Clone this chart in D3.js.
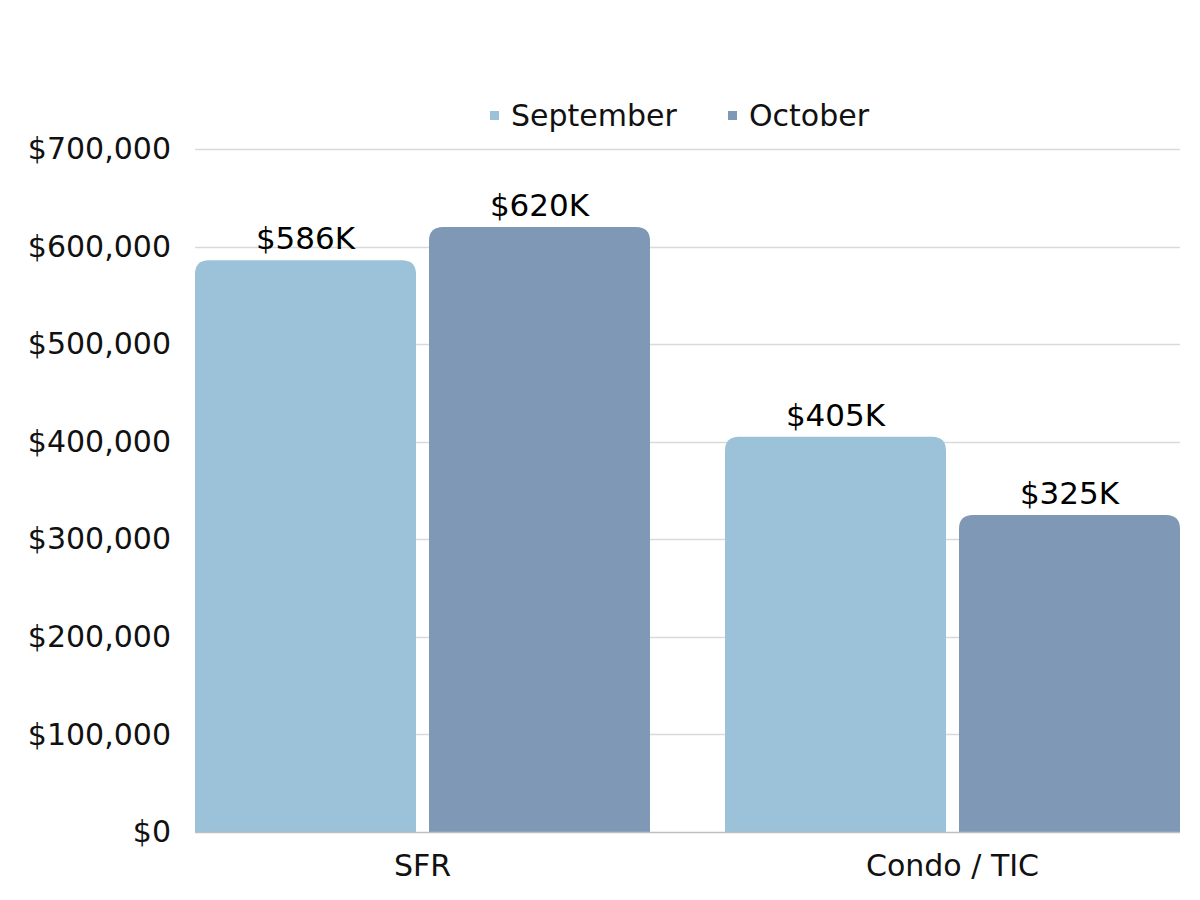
<!DOCTYPE html>
<html>
<head>
<meta charset="utf-8">
<script src="https://cdn.jsdelivr.net/npm/d3@7"></script>
<style>
  html, body { margin: 0; padding: 0; background: #fff; }
  svg { display: block; font-family: "DejaVu Sans", "Open Sans", sans-serif; }
</style>
</head>
<body>
<svg id="chart" width="1200" height="900"></svg>
<script>
const categories = ["SFR", "Condo / TIC"];
const seriesNames = ["September", "October"];
const september = [586000, 405000];
const october = [620000, 325000];
const barLabels = [["$586K", "$405K"], ["$620K", "$325K"]];
const yTicks = [0, 100000, 200000, 300000, 400000, 500000, 600000, 700000];
const colors = ["#9bc2d8", "#7f98b5"];

const seriesValues = [september, october];
const data = categories.map((c, i) => ({
  category: c,
  values: seriesNames.map((s, j) => ({ series: s, idx: j, value: seriesValues[j][i], label: barLabels[j][i] }))
}));

const FONT = "'DejaVu Sans', 'Open Sans', sans-serif";
const svg = d3.select("#chart");
const mLeft = 195, mRight = 1180, mTop = 149, mBottom = 832;

const x0 = d3.scaleBand().domain(categories).range([mLeft, mRight]).paddingInner(75 / 530).paddingOuter(0);
const x1 = d3.scaleBand().domain(seriesNames).range([0, x0.bandwidth()]).paddingInner(13 / 234).paddingOuter(0);
const y = d3.scaleLinear().domain([0, 700000]).range([mBottom, mTop]);

// gridlines
svg.append("g").selectAll("line").data(yTicks.filter(d => d > 0)).join("line")
  .attr("x1", mLeft).attr("x2", mRight)
  .attr("y1", d => Math.round(y(d)) + 0.5).attr("y2", d => Math.round(y(d)) + 0.5)
  .attr("stroke", "#d9d9d9").attr("stroke-width", 1.3);

// y axis labels
const yAxis = d3.axisLeft(y).tickValues(yTicks).tickSize(0).tickPadding(24)
  .tickFormat(d => "$" + d3.format(",")(d));
const gy = svg.append("g").attr("transform", `translate(${mLeft},0)`).call(yAxis);
gy.select(".domain").remove();
gy.selectAll("text").attr("font-size", 30).attr("fill", "#111").attr("font-family", FONT);

// rounded-top bar path
function topRoundedRect(x, yTop, w, h, r) {
  r = Math.min(r, w / 2, h);
  return `M${x},${yTop + h}V${yTop + r}Q${x},${yTop} ${x + r},${yTop}H${x + w - r}Q${x + w},${yTop} ${x + w},${yTop + r}V${yTop + h}Z`;
}

const groups = svg.append("g").selectAll("g").data(data).join("g")
  .attr("transform", d => `translate(${x0(d.category)},0)`);

groups.selectAll("path").data(d => d.values).join("path")
  .attr("d", d => topRoundedRect(x1(d.series), y(d.value), x1.bandwidth(), y(0) - y(d.value), 14))
  .attr("fill", d => colors[d.idx]);

groups.selectAll("text.val").data(d => d.values).join("text")
  .attr("class", "val")
  .attr("x", d => x1(d.series) + x1.bandwidth() / 2)
  .attr("y", d => y(d.value) - 11)
  .attr("text-anchor", "middle")
  .attr("font-size", 31).attr("fill", "#000").attr("font-family", FONT)
  .text(d => d.label);

// baseline
svg.append("line").attr("x1", mLeft).attr("x2", mRight)
  .attr("y1", mBottom + 0.5).attr("y2", mBottom + 0.5)
  .attr("stroke", "#bfbfbf").attr("stroke-width", 1.3);

// x axis labels
const xAxis = d3.axisBottom(x0).tickSize(0);
const gx = svg.append("g").attr("transform", `translate(0,${mBottom})`).call(xAxis);
gx.select(".domain").remove();
gx.selectAll("text").attr("font-size", 30).attr("fill", "#111").attr("font-family", FONT)
  .attr("y", 44).attr("dy", 0);

// legend
const legendX = [490, 728];
const lg = svg.append("g").selectAll("g").data(seriesNames).join("g")
  .attr("transform", (d, i) => `translate(${legendX[i]},0)`);
lg.append("rect").attr("x", 0).attr("y", 111).attr("width", 9).attr("height", 9)
  .attr("fill", (d, i) => colors[i]);
lg.append("text").attr("x", 21).attr("y", 126).attr("font-size", 30).attr("fill", "#111")
  .attr("font-family", FONT).text(d => d);
</script>
</body>
</html>
